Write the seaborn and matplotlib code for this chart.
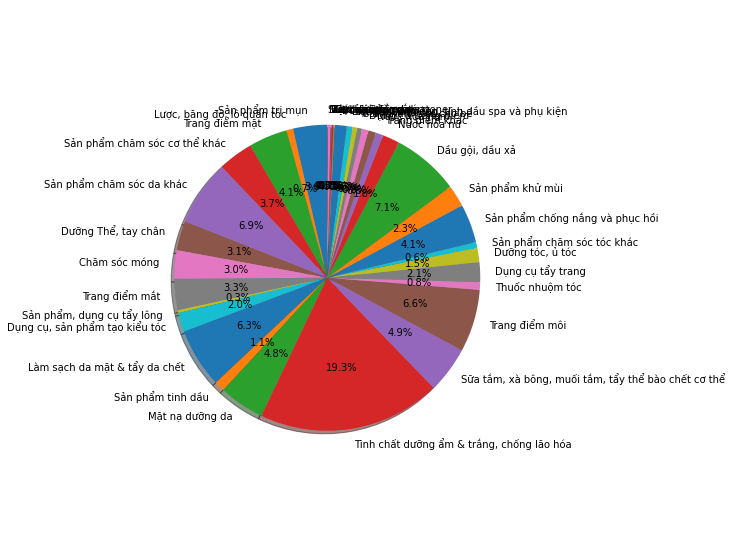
import matplotlib
matplotlib.use('Agg')
import matplotlib.pyplot as plt
import seaborn as sns

plt.rcParams['font.family'] = 'DejaVu Sans'

# Danh mục và tỷ lệ (%)
categories = [
    'Sản phẩm trị mụn', 'Lược, băng đô, lô quấn tóc', 'Trang điểm mặt',
    'Sản phẩm chăm sóc cơ thể khác', 'Sản phẩm chăm sóc da khác',
    'Dưỡng Thể, tay chân', 'Chăm sóc móng', 'Trang điểm mắt',
    'Sản phẩm, dụng cụ tẩy lông', 'Dụng cụ, sản phẩm tạo kiểu tóc',
    'Làm sạch da mặt & tẩy da chết', 'Sản phẩm tinh dầu', 'Mặt nạ dưỡng da',
    'Tinh chất dưỡng ẩm & trắng, chống lão hóa',
    'Sữa tắm, xà bông, muối tắm, tẩy thể bào chết cơ thể',
    'Trang điểm môi', 'Thuốc nhuộm tóc', 'Dụng cụ tẩy trang',
    'Dưỡng tóc, ủ tóc', 'Sản phẩm chăm sóc tóc khác',
    'Sản phẩm chống nắng và phục hồi', 'Sản phẩm khử mùi', 'Dầu gội, dầu xả',
    'Nước hoa nữ', 'Trang điểm khác', 'Nước hoa nam', 'Dụng cụ trang điểm',
    'Sản phẩm tắm cho bé', 'Nước súc miệng',
    'Dụng cụ làm đẹp, tinh dầu spa và phụ kiện', 'Bông tẩy trang',
    'Dụng cụ làm móng', 'Son dưỡng', 'Kem dưỡng mắt', 'Xịt khoáng',
    'Bộ chăm sóc da', 'Nước cân bằng da, toner', 'Sữa rửa mặt nam',
]
shares = [
    3.6, 0.7, 4.1, 3.7, 6.9, 3.1, 3.0, 3.3, 0.3, 2.0,
    6.3, 1.1, 4.8, 19.3, 4.9, 6.6, 0.8, 2.1, 1.5, 0.6,
    4.1, 2.3, 7.1, 1.8, 0.8, 0.8, 0.7, 0.5, 0.5, 0.6,
    1.3, 0.05, 0.05, 0.2, 0.05, 0.05, 0.3, 0.05,
]

colors = sns.color_palette('tab10', 10)

W, H = 731, 558
fig = plt.figure(figsize=(W / 72, H / 72), dpi=72)
ax = fig.add_axes([136 / W, 89 / H, 382.5 / W, 382.5 / H])
ax.pie(shares, labels=categories, autopct='%1.1f%%', startangle=90,
       shadow=True, colors=colors)
ax.set_xlim(-1.25, 1.25)
ax.set_ylim(-1.25, 1.25)
ax.set_aspect('equal')

plt.savefig('out.png', dpi=72)
